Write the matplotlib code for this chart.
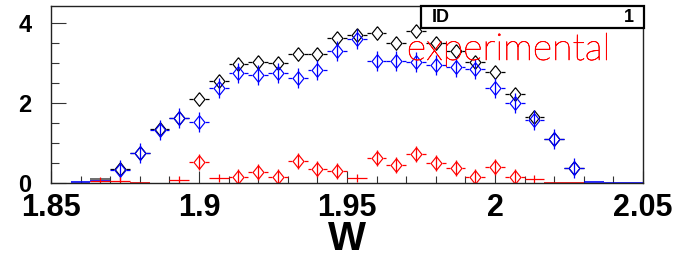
import matplotlib
matplotlib.use("Agg")
import matplotlib.pyplot as plt
import matplotlib.patheffects as pe
import numpy as np
from matplotlib.patches import Rectangle
from matplotlib.ticker import FuncFormatter, MultipleLocator

# histogram binning: 30 bins between 1.85 and 2.05
W_EDGES = np.linspace(1.85, 2.05, 31)
W_CENTERS = 0.5 * (W_EDGES[:-1] + W_EDGES[1:])
HALF = 0.5 * (W_EDGES[1] - W_EDGES[0])

# black diamonds (bin index -> value)
black_bins = [3, 4, 5, 6, 7, 8, 9, 10, 11, 12, 13, 14, 15, 16, 17, 18, 19, 20,
              21, 22, 23, 24, 25, 26]
black_vals = [0.35, 0.75, 1.35, 1.63, 2.09, 2.55, 2.97, 3.03, 2.99, 3.22, 3.22,
              3.63, 3.70, 3.74, 3.51, 3.81, 3.50, 3.31, 3.03, 2.77, 2.22, 1.66,
              1.10, 0.37]

# blue diamonds
blue_bins = [3, 4, 5, 6, 7, 8, 9, 10, 11, 12, 13, 14, 15, 16, 17, 18, 19, 20,
             21, 22, 23, 24, 25, 26]
blue_vals = [0.33, 0.75, 1.32, 1.62, 1.53, 2.37, 2.74, 2.71, 2.74, 2.62, 2.82,
             3.31, 3.59, 3.06, 3.06, 3.03, 2.95, 2.91, 2.84, 2.37, 1.99, 1.58,
             1.10, 0.37]

# red diamonds
red_bins = [7, 9, 10, 11, 12, 13, 14, 16, 17, 18, 19, 20, 21, 22, 23]
red_vals = [0.52, 0.16, 0.27, 0.16, 0.56, 0.35, 0.31, 0.62, 0.45, 0.73, 0.51,
            0.37, 0.16, 0.41, 0.14]

# red crosses (small entries)
redx_bins = [2, 3, 6, 8, 15, 24]
redx_vals = [0.06, 0.06, 0.07, 0.13, 0.13, 0.10]

# low bins drawn as bare bin-width bars
black_low_bins = [2]
black_low_vals = [0.09]
blue_low_bins = [1, 2, 27, 28, 29]
blue_low_vals = [0.02, 0.06, 0.03, 0.0, 0.0]
red_low_bins = [4, 25, 26]
red_low_vals = [0.0, 0.0, 0.0]

BLUE = "#0000ff"
RED = "#ff0000"
PX_X = 0.2 / 592
PX_Y = 4.425 / 177
DIAMOND = [(0, 1), (0.8, 0), (0, -1), (-0.8, 0), (0, 1)]


def diamonds(ax, bins, vals, color, yerr_px):
    x = W_CENTERS[bins]
    y = np.array(vals)
    gap = 6 * PX_X
    ax.hlines(y, x - HALF, x - gap, color=color, lw=0.9)
    ax.hlines(y, x + gap, x + HALF, color=color, lw=0.9)
    if yerr_px > 0:
        ax.vlines(x, y - yerr_px * PX_Y, y + yerr_px * PX_Y, color=color, lw=0.9)
    ax.plot(x, y, ls="none", marker=DIAMOND, ms=9.8, mfc="none", mec=color, mew=0.85)


def low_bars(ax, bins, vals, color):
    x = W_CENTERS[bins]
    ax.hlines(vals, x - HALF, x + HALF, color=color, lw=1.2)


fig = plt.figure(figsize=(6.84, 2.63), dpi=100)
ax = fig.add_axes([51 / 684, 80 / 263, 592 / 684, 177 / 263])

low_bars(ax, black_low_bins, black_low_vals, "#555555")
low_bars(ax, blue_low_bins, blue_low_vals, BLUE)
low_bars(ax, red_low_bins, red_low_vals, RED)

diamonds(ax, black_bins, black_vals, "black", 0)
diamonds(ax, blue_bins, blue_vals, BLUE, 10)
diamonds(ax, red_bins, red_vals, RED, 8)

xr = W_CENTERS[redx_bins]
ax.hlines(redx_vals, xr - HALF, xr + HALF, color=RED, lw=0.9)
ax.plot(xr, redx_vals, ls="none", marker="|", ms=5.5, mec=RED, mew=0.9)

ax.set_xlim(1.85, 2.05)
ax.set_ylim(0, 4.425)

ax.xaxis.set_major_locator(MultipleLocator(0.05))
ax.xaxis.set_minor_locator(MultipleLocator(0.01))
ax.yaxis.set_major_locator(MultipleLocator(2))
ax.yaxis.set_minor_locator(MultipleLocator(0.5))
ax.xaxis.set_major_formatter(FuncFormatter(lambda v, p: f"{v:g}"))
ax.yaxis.set_major_formatter(FuncFormatter(lambda v, p: f"{v:g}"))

ax.tick_params(axis="both", which="both", direction="in", top=False, right=False,
               width=0.8, color="#333333")
ax.tick_params(axis="x", which="major", length=9, pad=7)
ax.tick_params(axis="x", which="minor", length=5)
ax.tick_params(axis="y", which="major", length=11, pad=14)
ax.tick_params(axis="y", which="minor", length=6)
for lab in ax.get_xticklabels():
    lab.set_fontfamily("Liberation Sans")
    lab.set_fontweight("bold")
    lab.set_fontsize(22)
for lab in ax.get_yticklabels():
    lab.set_fontfamily("Liberation Sans")
    lab.set_fontweight("bold")
    lab.set_fontsize(17)
for sp in ax.spines.values():
    sp.set_linewidth(1.0)
    sp.set_color("#222222")

ax.set_xlabel("W", fontfamily="Liberation Sans", fontweight="bold", fontsize=29,
              labelpad=-2)

# stats box
ax.add_patch(Rectangle((0.625, 0.876), 0.377, 0.124, transform=ax.transAxes,
                       facecolor="white", edgecolor="black", lw=1.6, clip_on=False,
                       zorder=10))
ax.text(0.643, 0.936, "ID", transform=ax.transAxes, fontfamily="Liberation Sans",
        fontweight="bold", fontsize=13, va="center", ha="left", zorder=11)
ax.text(0.985, 0.936, "1", transform=ax.transAxes, fontfamily="Liberation Sans",
        fontweight="bold", fontsize=13, va="center", ha="right", zorder=11)

ax.text(0.601, 0.695, "experimental", transform=ax.transAxes, color=RED,
        fontfamily=["Lato", "DejaVu Sans"], fontweight="light", fontsize=27,
        va="baseline", ha="left", zorder=9,
        path_effects=[pe.withStroke(linewidth=0.45, foreground=RED)])

fig.savefig("out.png", dpi=100)
